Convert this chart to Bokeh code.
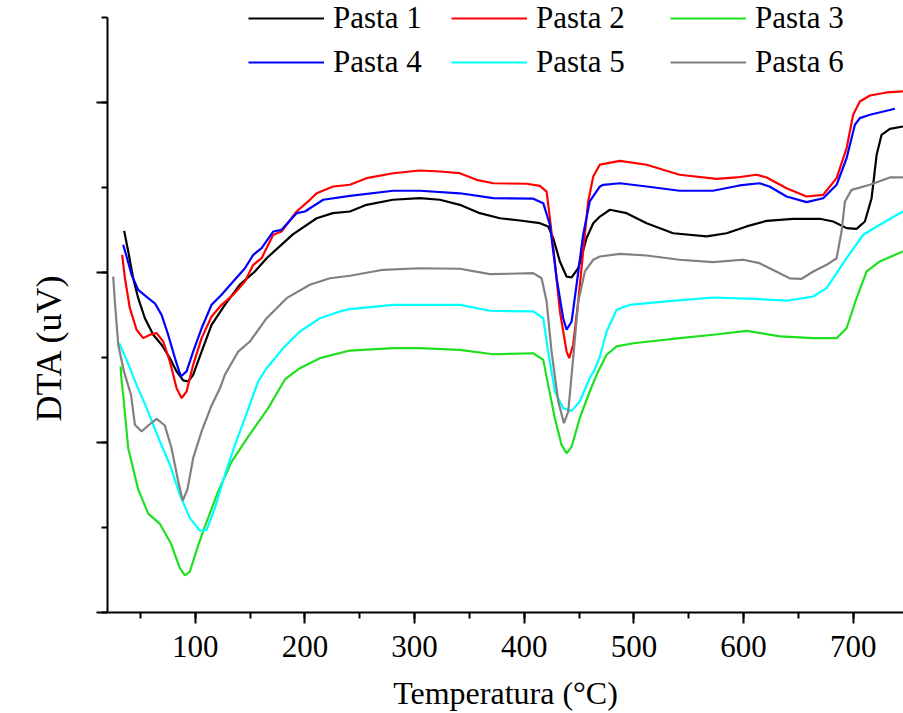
import math
from bokeh.plotting import figure
from bokeh.models import (Legend, LegendItem, SingleIntervalTicker, Range1d,
                          CustomJSTickFormatter, Title)
from bokeh.embed import file_html
from bokeh.resources import INLINE

# ---------------- data (temperature in degC, DTA signal in arbitrary uV units) ----------------
t1 = [35.2, 38.9, 43.4, 48.0, 54.1, 61.7, 69.3, 76.9, 83.0, 89.0, 93.6, 98.1, 105.8, 114.9, 127.0,
      140.7, 154.4, 165.1, 189.0, 210.7, 225.5, 241.0, 256.2, 280.2, 304.8, 323.1, 341.3, 359.5,
      377.8, 396.0, 414.3, 421.8, 426.4, 432.5, 438.6, 443.2, 449.2, 456.8, 462.9, 469.0, 478.1,
      493.3, 511.6, 535.8, 566.3, 584.5, 602.7, 621.0, 645.2, 669.5, 681.7, 693.9, 703.0, 710.6,
      716.7, 721.3, 725.8, 733.4, 745.3]
v1 = [22.45, 21.24, 19.66, 18.49, 17.31, 16.34, 15.75, 14.96, 14.18, 13.65, 13.59, 13.98, 15.35,
      16.92, 18.10, 19.29, 20.06, 20.84, 22.24, 23.19, 23.49, 23.59, 23.98, 24.28, 24.37, 24.28,
      23.98, 23.49, 23.19, 23.06, 22.90, 22.71, 22.02, 20.65, 19.76, 19.71, 20.25, 22.02, 22.90,
      23.29, 23.69, 23.49, 22.90, 22.31, 22.12, 22.31, 22.71, 23.04, 23.16, 23.16, 23.00, 22.61,
      22.57, 23.00, 24.37, 26.92, 28.10, 28.45, 28.59]

t2 = [33.4, 35.9, 40.4, 46.5, 52.6, 58.7, 64.8, 70.8, 76.9, 83.0, 87.6, 92.1, 98.1, 105.8, 114.9,
      124.0, 134.6, 145.3, 152.9, 160.5, 171.1, 178.7, 192.4, 203.0, 210.7, 225.8, 241.0, 256.2,
      280.5, 304.8, 323.1, 341.3, 356.5, 371.7, 402.1, 414.3, 420.4, 423.4, 427.9, 432.5, 438.6,
      441.0, 444.6, 449.2, 453.7, 458.3, 462.9, 469.0, 487.2, 511.6, 541.6, 575.4, 593.6, 611.8,
      621.0, 639.2, 657.4, 672.6, 684.8, 693.9, 699.9, 706.0, 715.2, 730.4, 745.3]
v2 = [21.04, 19.66, 17.90, 16.63, 16.14, 16.34, 16.43, 15.94, 14.76, 13.19, 12.61, 13.00, 14.57,
      16.14, 17.41, 18.10, 18.69, 19.47, 20.45, 20.84, 22.22, 22.41, 23.59, 24.18, 24.66, 25.06,
      25.16, 25.55, 25.84, 26.00, 25.94, 25.84, 25.45, 25.25, 25.22, 25.10, 24.76, 23.19, 20.65,
      17.71, 15.35, 14.96, 15.75, 18.29, 21.24, 24.18, 25.65, 26.35, 26.57, 26.34, 25.75, 25.51,
      25.59, 25.75, 25.59, 24.96, 24.47, 24.57, 25.55, 27.31, 29.28, 30.06, 30.41, 30.59, 30.65]

t3 = [31.9, 32.9, 34.3, 38.9, 48.0, 57.1, 67.8, 77.8, 86.0, 90.6, 95.1, 102.7, 108.8, 120.9, 133.2,
      148.3, 166.5, 181.8, 195.4, 213.7, 241.0, 280.5, 304.8, 341.3, 371.7, 408.2, 417.3, 421.8,
      427.9, 434.0, 438.6, 443.2, 450.6, 459.7, 467.4, 475.1, 484.2, 499.3, 541.9, 572.3, 602.8,
      633.1, 663.5, 684.8, 693.9, 703.0, 712.2, 724.2, 745.3]
v3 = [14.47, 13.59, 12.81, 9.66, 7.24, 5.82, 5.21, 4.06, 2.61, 2.18, 2.41, 3.95, 5.06, 7.12, 8.88,
      10.35, 12.02, 13.71, 14.37, 14.96, 15.41, 15.55, 15.55, 15.45, 15.19, 15.25, 14.86, 13.39,
      11.43, 9.86, 9.37, 9.76, 11.43, 13.00, 14.18, 15.16, 15.65, 15.84, 16.14, 16.34, 16.57,
      16.24, 16.14, 16.14, 16.72, 18.49, 20.06, 20.65, 21.24]

t4 = [34.3, 37.4, 42.0, 48.0, 57.1, 63.2, 69.3, 75.3, 81.5, 86.9, 92.1, 98.1, 105.8, 114.9, 124.0,
      134.6, 145.3, 152.9, 160.5, 171.1, 178.7, 192.4, 200.0, 216.7, 241.0, 280.5, 304.8, 341.3,
      371.7, 408.2, 417.3, 423.4, 429.5, 435.5, 438.6, 443.2, 447.7, 453.7, 459.7, 469.0, 472.0,
      487.2, 511.6, 541.6, 572.0, 596.3, 614.5, 623.6, 639.2, 657.4, 672.6, 684.8, 693.9, 701.5,
      706.0, 715.2, 738.0]
v4 = [21.63, 20.94, 19.86, 18.98, 18.49, 18.19, 17.51, 16.34, 14.96, 13.88, 14.18, 15.35, 16.72,
      18.10, 18.69, 19.47, 20.25, 21.04, 21.43, 22.41, 22.51, 23.49, 23.59, 24.28, 24.51, 24.81,
      24.81, 24.66, 24.37, 24.34, 24.08, 22.81, 19.66, 17.31, 16.63, 17.12, 19.28, 22.22, 24.18,
      25.06, 25.16, 25.25, 25.06, 24.81, 24.81, 25.12, 25.25, 25.06, 24.47, 24.14, 24.37, 25.16,
      26.72, 28.69, 29.08, 29.28, 29.63]

t5 = [30.7, 37.4, 46.5, 55.7, 67.8, 76.9, 86.0, 95.1, 104.3, 110.4, 117.9, 127.0, 136.2, 145.3,
      157.4, 165.1, 180.2, 195.4, 213.7, 231.9, 241.0, 280.5, 341.3, 368.7, 408.2, 417.3, 421.8,
      427.9, 435.5, 443.2, 450.6, 459.7, 464.2, 469.0, 475.1, 484.2, 496.4, 526.8, 572.3, 608.8,
      639.2, 663.5, 675.7, 693.9, 709.1, 724.2, 745.3]
v5 = [15.84, 14.86, 13.39, 12.02, 10.06, 8.69, 6.92, 5.55, 4.81, 4.86, 6.14, 8.10, 9.86, 11.43,
      13.59, 14.37, 15.55, 16.53, 17.31, 17.71, 17.85, 18.10, 18.10, 17.75, 17.71, 17.31, 15.35,
      13.00, 12.02, 11.86, 12.41, 13.78, 14.29, 15.06, 16.53, 17.81, 18.10, 18.29, 18.53, 18.45,
      18.34, 18.59, 19.08, 20.84, 22.22, 22.81, 23.59]

t6 = [25.2, 26.7, 29.8, 35.0, 41.4, 45.0, 51.1, 57.1, 64.8, 72.3, 78.4, 84.5, 88.6, 92.9, 98.1,
      105.8, 114.9, 122.5, 127.0, 139.2, 149.8, 165.1, 183.3, 204.5, 222.8, 241.0, 271.4, 304.8,
      341.3, 368.7, 408.2, 415.8, 420.4, 424.9, 431.0, 436.2, 440.1, 444.6, 449.2, 455.3, 462.9,
      469.0, 487.2, 511.6, 541.6, 572.0, 599.6, 614.5, 629.7, 641.9, 652.9, 663.5, 675.7, 684.8,
      689.3, 692.4, 698.5, 715.2, 733.4, 745.3]
v6 = [19.76, 18.29, 15.75, 14.18, 12.81, 11.04, 10.65, 11.00, 11.39, 11.00, 9.66, 7.71, 6.59, 7.24,
      9.08, 10.65, 12.18, 13.19, 13.98, 15.35, 15.94, 17.31, 18.49, 19.28, 19.66, 19.81, 20.16,
      20.25, 20.22, 19.90, 19.96, 19.66, 18.29, 15.35, 12.41, 11.14, 11.82, 14.96, 18.29, 20.06,
      20.75, 20.94, 21.10, 21.00, 20.75, 20.61, 20.75, 20.55, 20.06, 19.66, 19.63, 20.06, 20.45,
      20.84, 22.41, 24.18, 24.86, 25.16, 25.59, 25.59]

labels = ["Pasta 1", "Pasta 2", "Pasta 3", "Pasta 4", "Pasta 5", "Pasta 6"]
colors = ["#000000", "#ff0000", "#1ee01e", "#0000ff", "#00ffff", "#808080"]
series_t = [t1, t2, t3, t4, t5, t6]
series_v = [v1, v2, v3, v4, v5, v6]

x_start, x_end = 20, 745.8
y_start, y_end = 0, 36.0
y_axis_top = 35

SERIF = "Liberation Serif"

p = figure(width=903, height=713, output_backend="svg", toolbar_location=None,
           x_range=Range1d(x_start, x_end), y_range=Range1d(y_start, y_end),
           min_border_left=107, min_border_right=0, min_border_top=0, min_border_bottom=101)
p.outline_line_color = None
p.xgrid.visible = False
p.ygrid.visible = False
p.background_fill_color = "white"
p.border_fill_color = "white"

renderers = []
for t, v, c in zip(series_t, series_v, colors):
    r = p.line(t, v, line_color=c, line_width=2.2)
    renderers.append(r)

# axes
for ax in (p.xaxis[0], p.yaxis[0]):
    ax.axis_line_width = 2
    ax.axis_line_color = "black"
    ax.major_tick_line_width = 2
    ax.minor_tick_line_width = 2
    ax.major_tick_line_color = "black"
    ax.minor_tick_line_color = "black"
    ax.major_tick_in = 0
    ax.major_tick_out = 11
    ax.minor_tick_in = 0
    ax.minor_tick_out = 6
    ax.major_label_text_font = SERIF
    ax.major_label_text_color = "black"
    ax.axis_label_text_font = SERIF
    ax.axis_label_text_font_style = "normal"
    ax.axis_label_text_color = "black"

p.xaxis.ticker = SingleIntervalTicker(interval=100, num_minor_ticks=2)
p.yaxis.ticker = SingleIntervalTicker(interval=10, num_minor_ticks=2)
p.yaxis.bounds = (y_start, y_axis_top)
p.xaxis.major_label_text_font_size = "31px"
p.xaxis.major_label_standoff = 12
p.xaxis.axis_label = "Temperatura (°C)"
p.xaxis.axis_label_text_font_size = "32px"
p.xaxis.axis_label_standoff = 15

p.yaxis.formatter = CustomJSTickFormatter(code="return ''")
p.yaxis.major_label_standoff = 0

ytitle = Title(text="DTA (uV)", align="left", offset=191, vertical_align="top",
               standoff=52, text_font=SERIF, text_font_size="36px",
               text_font_style="normal", text_color="black")
p.add_layout(ytitle, "left")

# legend: three columns of two rows
cols = [(0, 3, 141), (1, 4, 344), (2, 5, 563)]
for a, b, xpos in cols:
    lg = Legend(items=[LegendItem(label=labels[a], renderers=[renderers[a]]),
                       LegendItem(label=labels[b], renderers=[renderers[b]])],
                location=(xpos, 532), orientation="vertical")
    lg.label_text_font = SERIF
    lg.label_text_font_size = "31px"
    lg.label_text_color = "black"
    lg.glyph_width = 76
    lg.glyph_height = 34
    lg.label_height = 34
    lg.label_standoff = 9
    lg.spacing = 8
    lg.padding = 0
    lg.margin = 0
    lg.border_line_alpha = 0
    lg.background_fill_alpha = 0
    p.add_layout(lg, "center")

open("out.html", "w").write(file_html(p, INLINE))
